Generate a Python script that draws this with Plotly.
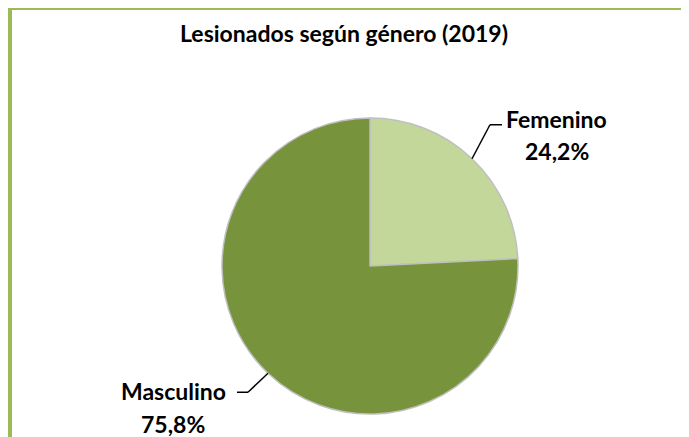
import math
import plotly.graph_objects as go

labels = ["Femenino", "Masculino"]
values = [24.2, 75.8]
value_text = ["24,2%", "75,8%"]
colors = ["#C4D79B", "#77933C"]
title = "Lesionados según género (2019)"

W, H = 689, 437
OFF = 8  # page body margin compensation
cx, cy, R = 370, 266, 148  # pie centre / radius in px

def px(x):
    return (x - OFF) / W

def py(y):
    return 1 - (y - OFF) / H

fig = go.Figure(go.Pie(
    labels=labels, values=values, sort=False, direction="clockwise", rotation=0,
    marker=dict(colors=colors, line=dict(color="#BFBFBF", width=1.5)),
    textinfo="none", hoverinfo="label+percent", showlegend=False,
    domain=dict(x=[px(cx - R), px(cx + R)], y=[py(cy + R), py(cy - R)]),
))

# label layout: (elbow dx, elbow dy, horizontal tail, text centre dx from tail, name dy, value dy)
label_layout = {
    "Femenino": dict(kdx=18, kdy=-34, tail=12, tdx=55, ndy=-6, vdy=26),
    "Masculino": dict(kdx=-20, kdy=19, tail=-11, tdx=-64, ndy=-1, vdy=32),
}

shapes = []
annotations = []
total = sum(values)
cum = 0
font = dict(family="Lato, 'Open Sans', sans-serif", size=23, color="#000000")
for lab, v, t in zip(labels, values, value_text):
    mid = (cum + v / 2) / total * 2 * math.pi
    cum += v
    ex, ey = cx + R * math.sin(mid), cy - R * math.cos(mid)
    L = label_layout[lab]
    kx, ky = ex + L["kdx"], ey + L["kdy"]
    hx = kx + L["tail"]
    shapes.append(dict(type="line", xref="paper", yref="paper",
                       x0=px(ex), y0=py(ey), x1=px(kx), y1=py(ky),
                       line=dict(color="#000000", width=1.5)))
    shapes.append(dict(type="line", xref="paper", yref="paper",
                       x0=px(kx), y0=py(ky), x1=px(hx), y1=py(ky),
                       line=dict(color="#000000", width=1.5)))
    tx = hx + L["tdx"]
    annotations.append(dict(xref="paper", yref="paper", x=px(tx), y=py(ky + L["ndy"]),
                            text=f"<b>{lab}</b>", showarrow=False,
                            xanchor="center", yanchor="middle", font=font))
    annotations.append(dict(xref="paper", yref="paper", x=px(tx), y=py(ky + L["vdy"]),
                            text=f"<b>{t}</b>", showarrow=False,
                            xanchor="center", yanchor="middle", font=font))

# border (left and top only visible)
shapes.append(dict(type="line", xref="paper", yref="paper", x0=px(10), y0=py(6),
                   x1=px(10), y1=py(H + 20), line=dict(color="#9BBB59", width=4)))
shapes.append(dict(type="line", xref="paper", yref="paper", x0=px(8), y0=py(8),
                   x1=px(W + 20), y1=py(8), line=dict(color="#9BBB59", width=4)))

annotations.append(dict(xref="paper", yref="paper", x=px(344), y=py(33), text=f"<b>{title}</b>",
                        showarrow=False, xanchor="center", yanchor="middle", font=font))

fig.update_layout(width=W, height=H, margin=dict(l=0, r=0, t=0, b=0),
                  paper_bgcolor="#FFFFFF", plot_bgcolor="#FFFFFF",
                  shapes=shapes, annotations=annotations)
fig.write_html("out.html")
